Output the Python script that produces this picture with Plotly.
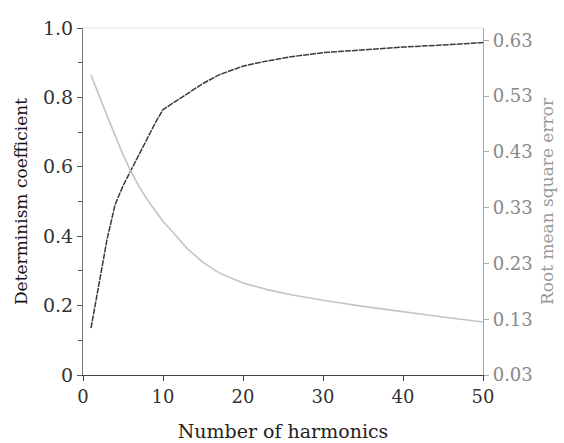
import plotly.graph_objects as go

harmonics = [1, 2, 3, 4, 5, 6, 7, 8, 9, 10, 11, 13, 15, 17, 20, 23, 26, 30, 35, 40, 45, 50]
determinism = [0.135, 0.265, 0.39, 0.49, 0.545, 0.59, 0.635, 0.68, 0.725, 0.765, 0.78,
               0.81, 0.84, 0.865, 0.89, 0.905, 0.917, 0.929, 0.938, 0.945, 0.951, 0.958]
rmse = [0.568, 0.53, 0.495, 0.46, 0.425, 0.395, 0.368, 0.345, 0.325, 0.305, 0.29,
        0.257, 0.232, 0.213, 0.195, 0.183, 0.174, 0.164, 0.153, 0.143, 0.134, 0.125]

x_ticks = [0, 10, 20, 30, 40, 50]
left_ticks = [0, 0.2, 0.4, 0.6, 0.8, 1.0]
left_labels = ["0", "0.2", "0.4", "0.6", "0.8", "1.0"]
right_ticks = [0.03, 0.13, 0.23, 0.33, 0.43, 0.53, 0.63]
right_labels = ["0.03", "0.13", "0.23", "0.33", "0.43", "0.53", "0.63"]

font_family = "DejaVu Serif"

fig = go.Figure()
fig.add_trace(go.Scatter(x=harmonics, y=rmse, mode="lines", yaxis="y2",
                         line=dict(color="#c4c4c4", width=1.6), showlegend=False))
fig.add_trace(go.Scatter(x=harmonics, y=determinism, mode="lines",
                         line=dict(color="#3a3a3a", width=1.5, dash="6px,1px"), showlegend=False))

fig.update_layout(
    width=564, height=443,
    margin=dict(l=83, r=81, t=28, b=68),
    paper_bgcolor="white", plot_bgcolor="white",
    font=dict(family=font_family, size=17, color="#222"),
    xaxis=dict(range=[0, 50], tickvals=x_ticks, showgrid=False, zeroline=False,
               showline=True, linecolor="#444", linewidth=1.2, automargin=False,
               ticks="outside", ticklen=5, tickcolor="#444",
               tickfont=dict(size=18, color="#333"),
               title=dict(text="Number of harmonics", font=dict(size=19, color="#222"), standoff=18)),
    yaxis=dict(range=[0, 1.0], tickvals=left_ticks, ticktext=left_labels, showgrid=False,
               zeroline=False, showline=True, linecolor="#777", linewidth=1.2, automargin=False,
               ticks="outside", ticklen=5, tickcolor="#555",
               tickfont=dict(size=19, color="#333"),
               minor=dict(dtick=0.1, tick0=0, ticks="outside", ticklen=4, tickcolor="#555"),
               title=dict(text="Determinism coefficient", font=dict(size=17, color="#111"), standoff=10)),
    yaxis2=dict(range=[0.03, 0.652], overlaying="y", side="right", tickvals=right_ticks,
                ticktext=right_labels, showgrid=False, zeroline=False, showline=True,
                automargin=False,
                linecolor="#aaa", linewidth=1.2, ticks="outside", ticklen=5, tickcolor="#aaa",
                tickfont=dict(color="#888", size=18),
                title=dict(text="Root mean square error", font=dict(size=17, color="#999"), standoff=9)),
    shapes=[dict(type="line", xref="paper", yref="paper", x0=0, x1=1, y0=1, y1=1,
                 line=dict(color="#e6e6e6", width=1.2))],
)

fig.write_html("out.html")
